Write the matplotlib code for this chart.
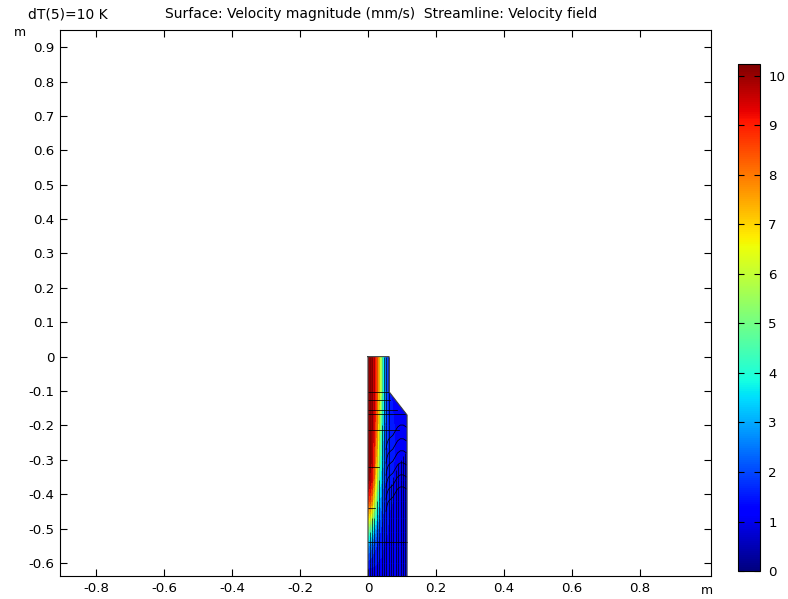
import numpy as np
import matplotlib.pyplot as plt
from matplotlib.path import Path
from matplotlib.patches import PathPatch
from matplotlib.collections import LineCollection

plt.rcParams['font.family'] = 'DejaVu Sans'
plt.rcParams['axes.unicode_minus'] = False

# velocity magnitude (mm/s) sampled on an r-z grid
r_pts = [0.0, 0.01, 0.02, 0.03, 0.04, 0.05, 0.062, 0.08, 0.10, 0.115]
z_pts = [0.0, -0.1, -0.2, -0.3, -0.36, -0.42, -0.47, -0.51, -0.55, -0.60, -0.64]
speed = [
    [10.2, 10.0, 9.3, 7.5, 5.0, 2.6, 1.2, 1.2, 1.2, 1.2],
    [10.2, 10.0, 9.3, 7.5, 5.0, 2.6, 1.4, 1.2, 1.1, 1.0],
    [10.2, 10.0, 9.0, 7.0, 4.2, 2.2, 1.5, 1.3, 1.2, 1.1],
    [10.2, 9.8, 8.3, 6.0, 3.5, 2.0, 1.5, 1.3, 1.2, 1.1],
    [10.0, 9.4, 7.5, 5.0, 2.9, 1.8, 1.4, 1.3, 1.2, 1.1],
    [8.8, 8.0, 6.0, 3.8, 2.3, 1.6, 1.4, 1.3, 1.2, 1.1],
    [6.8, 6.0, 4.3, 2.8, 1.9, 1.5, 1.3, 1.3, 1.2, 1.1],
    [4.8, 4.0, 2.8, 2.0, 1.6, 1.4, 1.3, 1.2, 1.2, 1.1],
    [2.8, 2.4, 1.9, 1.6, 1.4, 1.3, 1.3, 1.2, 1.2, 1.1],
    [1.6, 1.5, 1.4, 1.3, 1.3, 1.3, 1.2, 1.2, 1.2, 1.1],
    [0.8, 1.0, 1.1, 1.1, 1.1, 1.1, 1.1, 1.1, 1.1, 0.8],
]
v_max = 10.24

# domain outline (r, z)
dom_r = [0.0, 0.062, 0.062, 0.115, 0.115, 0.0, 0.0]
dom_z = [0.0, 0.0, -0.102, -0.17, -0.64, -0.64, 0.0]

# streamlines: vertical ones (x, top z) and horizontal ones (z, r start, r end)
vert_x = [0.005, 0.012, 0.019, 0.026, 0.033, 0.040, 0.047, 0.054, 0.061,
          0.068, 0.075, 0.082, 0.089, 0.096, 0.103, 0.110]
vert_top = [0.0, 0.0, 0.0, 0.0, 0.0, 0.0, 0.0, 0.0, 0.0,
            -0.37, -0.35, -0.33, -0.31, -0.30, -0.29, -0.28]
horiz = [(-0.102, 0.0, 0.062), (-0.127, 0.0, 0.066), (-0.155, 0.0, 0.085),
         (-0.168, 0.0, 0.11), (-0.213, 0.0, 0.09), (-0.32, 0.0, 0.032),
         (-0.44, 0.0, 0.022), (-0.54, 0.0, 0.115)]
# curved streamlines in the outer region: shape offsets and starting heights
curve_r = [0.113, 0.104, 0.095, 0.087, 0.080, 0.073, 0.066, 0.060, 0.056, 0.053]
curve_dz = [0.0, 0.006, 0.006, 0.0, -0.012, -0.024, -0.030, -0.036, -0.048, -0.065]
curve_z0 = [-0.205, -0.245, -0.28, -0.315, -0.35, -0.385]

x_ticks = [-0.8, -0.6, -0.4, -0.2, 0, 0.2, 0.4, 0.6, 0.8]
y_ticks = [0.9, 0.8, 0.7, 0.6, 0.5, 0.4, 0.3, 0.2, 0.1, 0, -0.1, -0.2, -0.3,
           -0.4, -0.5, -0.6]
cb_ticks = list(range(11))

fig = plt.figure(figsize=(7.88, 5.99), dpi=100)
ax = fig.add_axes([0.0761, 0.0384, 0.8262, 0.9116])

clip = PathPatch(Path(np.column_stack([dom_r, dom_z])), facecolor='none',
                 edgecolor='none')
ax.add_patch(clip)

R, Z = np.meshgrid(r_pts, z_pts)
V = np.array(speed)
# smooth base layer, then banded contours on top
base = ax.pcolormesh(R, Z, V, shading='gouraud', cmap='jet', vmin=0, vmax=v_max)
base.set_clip_path(clip)
cf = ax.contourf(R, Z, V, levels=np.linspace(0, v_max, 24), cmap='jet',
                 vmin=0, vmax=v_max)
cf.set_clip_path(clip)

lw = 0.55
# vertical streamlines fade where they cross the fast core
segs, cols = [], []
for x, top in zip(vert_x, vert_top):
    zs = [top] + [z for z in z_pts if z < top]
    for z0, z1 in zip(zs[:-1], zs[1:]):
        row = z_pts.index(z1)
        v = np.interp(x, r_pts, speed[row])
        segs.append([(x, z0), (x, z1)])
        cols.append((0, 0, 0, 0.2 if v > 4 else 0.85))
ax.add_collection(LineCollection(segs, colors=cols, linewidths=lw))

for z, r0, r1 in horiz:
    ax.plot([r0, r1], [z, z], color='black', lw=lw)
for z0 in curve_z0:
    ax.plot(curve_r, [z0 + d for d in curve_dz], color='black', lw=lw)

ax.plot(dom_r, dom_z, color='#404040', lw=0.8)

ax.set_xlim(-0.906, 1.009)
ax.set_ylim(-0.638, 0.95)
ax.set_xticks(x_ticks)
ax.set_xticklabels([f'{v:g}' for v in x_ticks])
ax.set_yticks(y_ticks)
ax.set_yticklabels([f'{v:g}' for v in y_ticks])
ax.tick_params(direction='in', length=5, width=0.8, top=True, right=True,
               labelsize=9.6, colors='black', pad=4)
for s in ax.spines.values():
    s.set_linewidth(0.8)

fig.text(14 / 788, 1 - 32 / 599, 'm', fontsize=9, ha='left', va='center')
fig.text(707 / 788, 1 - 591 / 599, 'm', fontsize=9, ha='center', va='center')
fig.text(28 / 788, 1 - 14 / 599, 'dT(5)=10 K', fontsize=10, ha='left',
         va='center')
fig.text(165 / 788, 1 - 14 / 599,
         'Surface: Velocity magnitude (mm/s)  Streamline: Velocity field',
         fontsize=10, ha='left', va='center')

cax = fig.add_axes([0.9365, 0.0467, 0.0279, 0.8464])
sm = plt.cm.ScalarMappable(cmap='jet', norm=plt.Normalize(0, v_max))
cb = fig.colorbar(sm, cax=cax, ticks=cb_ticks)
cb.outline.set_linewidth(0.8)
cax.tick_params(direction='in', length=4, width=0.8, left=True, right=True,
                labelsize=9.6, pad=6)

fig.savefig('out.png', dpi=100)
